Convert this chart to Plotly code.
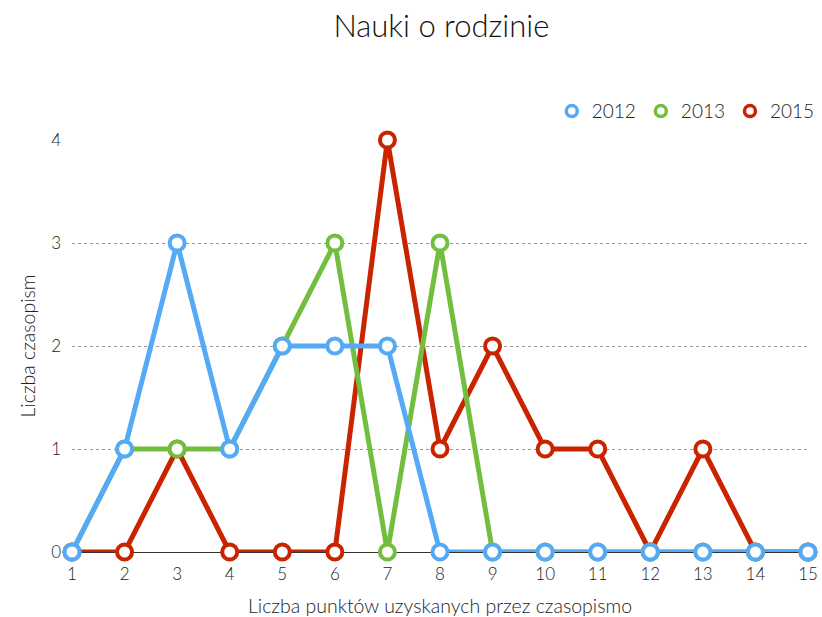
import plotly.graph_objects as go

x_points = list(range(1, 16))
y2012 = [0, 1, 3, 1, 2, 2, 2, 0, 0, 0, 0, 0, 0, 0, 0]
y2013 = [0, 1, 1, 1, 2, 3, 0, 3, 0, 0, 0, 0, 0, 0, 0]
y2015 = [0, 0, 1, 0, 0, 0, 4, 1, 2, 1, 1, 0, 1, 0, 0]

series = [("2012", y2012, "#55AAF5"), ("2013", y2013, "#72BF3F"), ("2015", y2015, "#C92300")]

fig = go.Figure()
# draw red first, blue on top
for name, ys, col in reversed(series):
    fig.add_trace(go.Scatter(
        x=x_points, y=ys, mode="lines+markers", name=name,
        line=dict(color=col, width=5),
        marker=dict(symbol="circle", size=15, color="white", line=dict(color=col, width=4)),
        cliponaxis=False, showlegend=False))
for name, ys, col in series:
    fig.add_trace(go.Scatter(
        x=[None], y=[None], mode="markers", name=name,
        marker=dict(symbol="circle", size=11, color="white", line=dict(color=col, width=3.5)),
        showlegend=True))

FONT = "Lato, Roboto, Liberation Sans, sans-serif"
fig.update_layout(
    width=822, height=617,
    paper_bgcolor="white", plot_bgcolor="white",
    font=dict(family=FONT, color="#222222", weight=300),
    title=dict(text="Nauki o rodzinie", x=0.537, xanchor="center", y=0.957, yanchor="middle",
               font=dict(size=31, color="#111111", weight=300)),
    margin=dict(l=72, r=14, t=140, b=65, autoexpand=False),
    legend=dict(orientation="h", x=1.016, xanchor="right", y=1.07, yanchor="middle",
                font=dict(size=19, weight=300), itemwidth=30, traceorder="normal", tracegroupgap=0),
    showlegend=True,
    xaxis=dict(range=[1, 15], tickvals=x_points, ticktext=[str(v) for v in x_points],
               showgrid=False, zeroline=False, showline=False, ticks="", automargin=False,
               tickfont=dict(size=17, weight=300), ticklabelstandoff=10,
               title=dict(text="Liczba punktów uzyskanych przez czasopismo", font=dict(size=19.5, weight=300), standoff=20)),
    yaxis=dict(range=[0, 4], tickvals=[0, 1, 2, 3, 4], showgrid=True, gridcolor="#999999",
               griddash="dot", gridwidth=1, zeroline=True, zerolinecolor="#333333", zerolinewidth=1,
               showline=False, ticks="", automargin=False, tickfont=dict(size=17, weight=300), ticklabelstandoff=10,
               title=dict(text="Liczba czasopism", font=dict(size=19.5, weight=300), standoff=10)),
)

fig.write_html("out.html", config={"displayModeBar": False},
               post_script="document.body.style.margin='0';document.body.style.overflow='hidden';")
